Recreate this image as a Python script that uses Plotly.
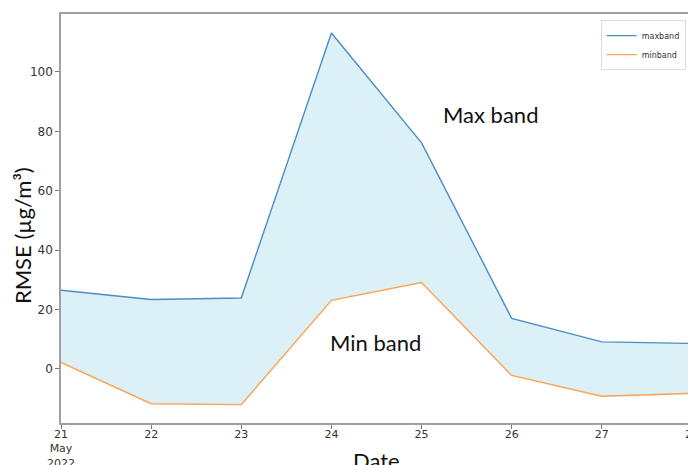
import plotly.graph_objects as go

dates = ["2022-05-21", "2022-05-22", "2022-05-23", "2022-05-24",
         "2022-05-25", "2022-05-26", "2022-05-27", "2022-05-28"]
maxband = [26.5, 23.4, 23.9, 113.1, 76.1, 17.0, 9.1, 8.6]
minband = [2.2, -11.7, -12.0, 23.1, 29.1, -2.2, -9.2, -8.2]
tick_labels = ["21<br>May<br>2022", "22", "23", "24", "25", "26", "27", "28"]
y_ticks = [0, 20, 40, 60, 80, 100]

fig = go.Figure()
# shaded band between the two series (not in legend)
fig.add_trace(go.Scatter(x=dates, y=minband, mode="lines", showlegend=False,
                         line=dict(width=0), hoverinfo="skip"))
fig.add_trace(go.Scatter(x=dates, y=maxband, mode="lines", showlegend=False,
                         line=dict(width=0), fill="tonexty",
                         fillcolor="rgba(190,228,240,0.55)", hoverinfo="skip"))
fig.add_trace(go.Scatter(x=dates, y=maxband, mode="lines", name="maxband",
                         line=dict(color="#4a8ec6", width=1.4)))
fig.add_trace(go.Scatter(x=dates, y=minband, mode="lines", name="minband",
                         line=dict(color="#ffa250", width=1.4)))

axis_common = dict(showgrid=False, zeroline=False, showline=True, mirror=True,
                   linecolor="#a0a0a0", linewidth=1.5, ticks="outside",
                   ticklen=4, tickcolor="#777", automargin=False)

fig.update_xaxes(type="date", range=["2022-05-21", "2022-05-28 00:00:01"],
                 tickvals=dates, ticktext=tick_labels, ticklabeloverflow="allow",
                 ticklabelstandoff=-4,
                 tickfont=dict(family="DejaVu Sans", size=11, color="#333"),
                 **axis_common)
fig.update_yaxes(range=[-18.2, 119.5], tickvals=y_ticks,
                 tickfont=dict(family="DejaVu Sans", size=12, color="#333"),
                 **axis_common)

fig.add_annotation(text="Max band", xref="paper", yref="paper", x=0.681, y=0.755,
                   xanchor="center", yanchor="middle",
                   showarrow=False, font=dict(family="Lato", size=22, color="#111"))
fig.add_annotation(text="Min band", xref="paper", yref="paper", x=0.499, y=0.198,
                   xanchor="center", yanchor="middle",
                   showarrow=False, font=dict(family="Lato", size=22, color="#111"))
fig.add_annotation(text="Date", xref="paper", yref="paper", x=0.5, y=0,
                   xanchor="center", yanchor="top", yshift=-22, showarrow=False,
                   font=dict(family="Lato", size=22, color="#111"))
fig.add_annotation(text="RMSE (µg/m³)", xref="paper", yref="paper", x=0, y=0.457,
                   xanchor="center", yanchor="middle", xshift=-39, textangle=-90,
                   showarrow=False, font=dict(family="Lato", size=22, color="#111"))

fig.update_layout(
    width=688, height=457,
    margin=dict(l=53, r=4, t=6, b=42, autoexpand=False),
    plot_bgcolor="white", paper_bgcolor="white",
    legend=dict(x=0.99, y=0.985, xanchor="right", yanchor="top",
                traceorder="normal",
                font=dict(family="DejaVu Sans", size=8, color="#333"),
                bgcolor="white", bordercolor="#dddddd", borderwidth=1,
                tracegroupgap=0, itemwidth=30),
)

fig.write_html("out.html")
